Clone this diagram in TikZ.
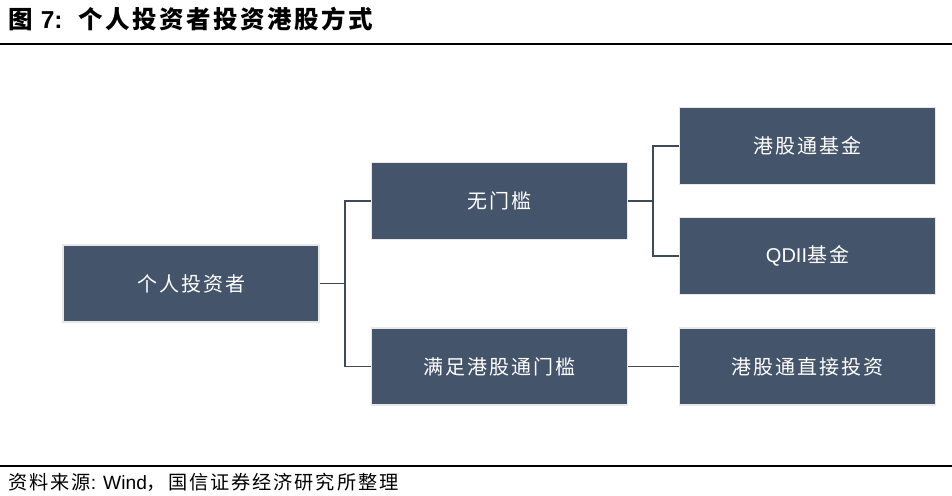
\documentclass[tikz,border=0pt]{standalone}
\usepackage{fontspec}
\usepackage{xcolor}
\newfontfamily\cjk{Noto Sans CJK SC}
\newfontfamily\cjkwide{Noto Sans CJK SC}[LetterSpace=10]
\newfontfamily\cjktitle{Noto Sans CJK SC}[LetterSpace=10]
\newfontfamily\arialbf{Liberation Sans}[BoldFont={Liberation Sans Bold}]
\newfontfamily\arial{Liberation Sans}
\definecolor{boxblue}{HTML}{44546A}
\definecolor{linkgray}{HTML}{3E4A5B}
\tikzset{
  box/.style={draw=gray!18, line width=1.2pt, fill=boxblue, text=white,
    minimum width=256pt, minimum height=77pt, inner sep=0pt,
    font=\cjkwide\fontsize{20}{24}\selectfont},
  link/.style={draw=linkgray, line width=1.6pt}
}
\begin{document}
\begin{tikzpicture}[x=1pt,y=-1pt]
                \useasboundingbox (0,0) rectangle (952,495);

                % title and rules
                \node[anchor=west, inner sep=0pt] (title) at (8,19)
                  {\cjktitle\fontsize{24.5}{28}\selectfont\bfseries 图 {\arialbf\bfseries 7:}\ \ 个人投资者投资港股方式};
                \draw[line width=1.8pt] (0,44) -- (952,44);
                \draw[line width=1.8pt] (0,466) -- (952,466);
                \node[anchor=west, inner sep=0pt] (source) at (8,482)
                  {\cjkwide\fontsize{19.2}{22}\selectfont 资料来源{\arial: Wind}，国信证券经济研究所整理};

                % boxes
                \node[box] (inv) at (191,283.5) {个人投资者};

                \node[box] (free) at (499.5,201) {无门槛};
                \node[box] (hks) at (499.5,366.5) {满足港股通门槛};

                \node[box] (fund) at (807.5,146) {港股通基金};
                \node[box] (qdii) at (807.5,256) {{\arial QDII}基金};
                \node[box] (direct) at (807.5,366.5) {港股通直接投资};

                % connectors
                \coordinate (j1) at (345,283.5);
                \coordinate (j2) at (653,201);
                \draw[link] (inv.east) -- (j1);
                \draw[link] (free.west) -| (j1) |- (hks.west);
                \draw[link] (free.east) -- (j2);
                \draw[link] (fund.west) -| (j2) |- (qdii.west);
                \draw[link] (hks.east) -- (direct.west);
            \end{tikzpicture}
\end{document}
